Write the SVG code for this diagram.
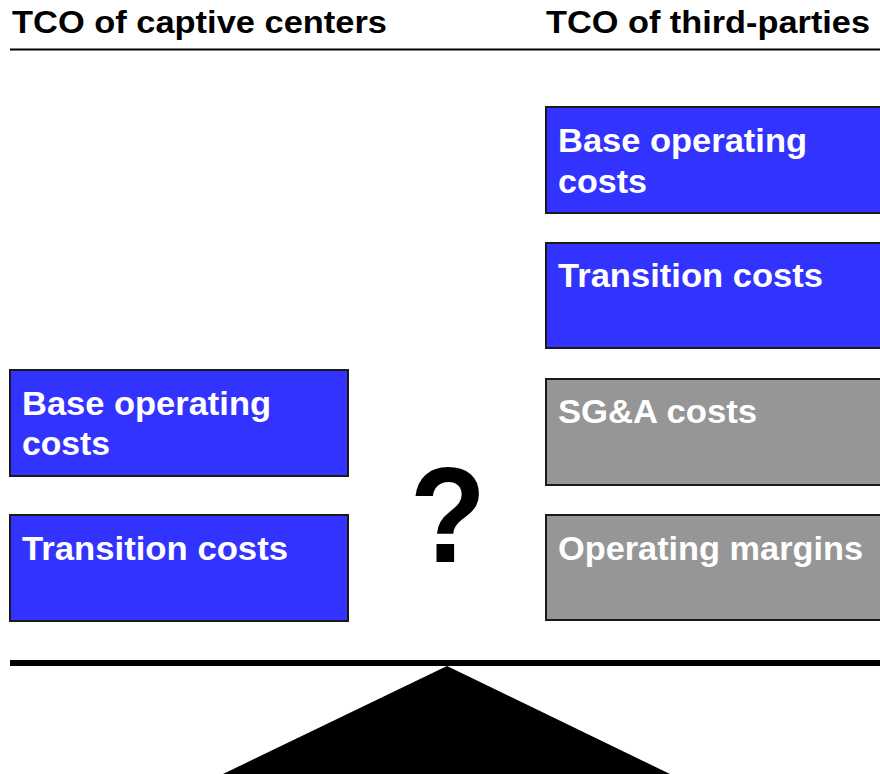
<svg xmlns="http://www.w3.org/2000/svg" width="880" height="774" viewBox="0 0 880 774">
<style>
.hd{font-family:"Liberation Sans",Arial,sans-serif;font-weight:bold;font-size:31px;fill:#000}
.lb{font-family:"Liberation Sans",Arial,sans-serif;font-weight:bold;font-size:33px;fill:#fff}
.blue{fill:#3333ff;stroke:#1a1a1a;stroke-width:2}
.gray{fill:#969696;stroke:#1a1a1a;stroke-width:2}
</style>
<rect width="880" height="774" fill="#fff"/>
<g id="headers">
<text class="hd" x="12" y="33" textLength="375" lengthAdjust="spacingAndGlyphs">TCO of captive centers</text>
<text class="hd" x="546" y="33" textLength="324" lengthAdjust="spacingAndGlyphs">TCO of third-parties</text>
<line x1="10" y1="49.5" x2="880" y2="49.5" stroke="#000" stroke-width="2"/>
</g>
<g id="left-base">
<rect class="blue" x="10" y="370" width="338" height="106"/>
<text class="lb" x="22" y="415" textLength="249" lengthAdjust="spacingAndGlyphs">Base operating</text>
<text class="lb" x="22" y="455" textLength="88" lengthAdjust="spacingAndGlyphs">costs</text>
</g>
<g id="left-transition">
<rect class="blue" x="10" y="515" width="338" height="106"/>
<text class="lb" x="22" y="560" textLength="266" lengthAdjust="spacingAndGlyphs">Transition costs</text>
</g>
<g id="right-base">
<rect class="blue" x="546" y="107" width="340" height="106"/>
<text class="lb" x="558" y="152" textLength="249" lengthAdjust="spacingAndGlyphs">Base operating</text>
<text class="lb" x="558" y="193" textLength="89" lengthAdjust="spacingAndGlyphs">costs</text>
</g>
<g id="right-transition">
<rect class="blue" x="546" y="243" width="340" height="105"/>
<text class="lb" x="558" y="287" textLength="265" lengthAdjust="spacingAndGlyphs">Transition costs</text>
</g>
<g id="right-sga">
<rect class="gray" x="546" y="379" width="340" height="106"/>
<text class="lb" x="558" y="423" textLength="199" lengthAdjust="spacingAndGlyphs">SG&amp;A costs</text>
</g>
<g id="right-margins">
<rect class="gray" x="546" y="515" width="340" height="105"/>
<text class="lb" x="558" y="560" textLength="305" lengthAdjust="spacingAndGlyphs">Operating margins</text>
</g>
<g id="question">
<text transform="translate(448,562) scale(0.92,1)" x="0" y="0" text-anchor="middle" font-family="Liberation Sans,Arial,sans-serif" font-weight="bold" font-size="136" fill="#000">?</text>
</g>
<g id="scale">
<rect x="10" y="660" width="870" height="6" fill="#000"/>
<polygon points="447,666 223,774 670,774" fill="#000"/>
</g>
</svg>
